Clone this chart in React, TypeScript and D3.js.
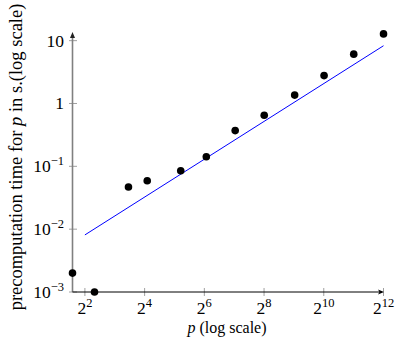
import { useRef, useEffect } from 'react'
import * as d3 from 'd3'

// precomputation time (s) for prime p
const primes = [3, 5, 11, 17, 37, 67, 131, 257, 521, 1031, 2053, 4099]
const times = [0.002, 0.001, 0.047, 0.059, 0.085, 0.142, 0.37, 0.65, 1.36, 2.78, 6.1, 12.8]

// linear fit endpoints (p, t)
const fitP = [4, 4096]
const fitT = [0.0081, 8.3]

const xTickExp = [2, 4, 6, 8, 10, 12]
const yTicks = [1e-3, 1e-2, 1e-1, 1, 10]
const yTickLabels: [string, string][] = [['10', '−3'], ['10', '−2'], ['10', '−1'], ['1', ''], ['10', '']]

export default function App() {
  const svgRef = useRef<SVGSVGElement>(null)

  useEffect(() => {
    const W = 397, H = 340
    const font = '"Liberation Serif", "DejaVu Serif", serif'
    const svg = d3.select(svgRef.current)
    svg.selectAll('*').remove()
    svg.attr('width', W).attr('height', H)

    const x = d3.scaleLog().base(2).domain([3, 4096]).range([72.5, 383.5])
    const y = d3.scaleLog().domain([1e-3, Math.pow(10, 1.09)]).range([292, 35])

    const g = svg.append('g')

    // x ticks
    xTickExp.forEach(e => {
      const px = x(Math.pow(2, e))
      g.append('line').attr('x1', px).attr('x2', px).attr('y1', 288).attr('y2', 296)
        .attr('stroke', '#888').attr('stroke-width', 0.8)
      const t = g.append('text').attr('x', px).attr('y', 314)
        .attr('text-anchor', 'middle').attr('font-family', font).attr('font-size', 17.5).attr('fill', '#000')
      t.append('tspan').text('2')
      t.append('tspan').attr('dy', -7).attr('font-size', 12.5).text(String(e))
    })

    // y ticks
    yTicks.forEach((v, i) => {
      const py = y(v)
      g.append('line').attr('x1', 69).attr('x2', 77).attr('y1', py).attr('y2', py)
        .attr('stroke', '#888').attr('stroke-width', 0.8)
      const [base, sup] = yTickLabels[i]
      const t = g.append('text').attr('x', 64).attr('y', py + 6)
        .attr('text-anchor', 'end').attr('font-family', font).attr('font-size', 17.5).attr('fill', '#000')
      t.append('tspan').text(base)
      if (sup) t.append('tspan').attr('dy', -7).attr('font-size', 12.5).text(sup)
    })

    // y axis (gray) with arrow
    g.append('line').attr('x1', 72.5).attr('x2', 72.5).attr('y1', 292).attr('y2', 36)
      .attr('stroke', '#808080').attr('stroke-width', 1.6)
    g.append('path').attr('d', 'M72.5,32 L70,38 L75,38 Z').attr('fill', '#222')

    // x axis (black) with arrow
    g.append('line').attr('x1', 72.5).attr('x2', 382).attr('y1', 292).attr('y2', 292)
      .attr('stroke', '#000').attr('stroke-width', 1)
    g.append('path').attr('d', 'M384,292 L378,289.5 L379.5,292 L378,294.5 Z').attr('fill', '#000')

    // fit line
    const line = d3.line<number>().x(i => x(fitP[i])).y(i => y(fitT[i]))
    g.append('path').datum([0, 1]).attr('d', line)
      .attr('fill', 'none').attr('stroke', '#0000ff').attr('stroke-width', 1)

    // points
    primes.forEach((p, i) => {
      g.append('circle').attr('cx', x(p)).attr('cy', y(times[i])).attr('r', 3.8).attr('fill', '#000')
    })

    // axis labels
    const xl = g.append('text').attr('x', 227).attr('y', 333).attr('text-anchor', 'middle')
      .attr('font-family', font).attr('font-size', 16).attr('fill', '#000')
    xl.append('tspan').attr('font-style', 'italic').text('p')
    xl.append('tspan').text(' (log scale)')

    const yl = g.append('text').attr('transform', 'translate(22,157) rotate(-90)').attr('text-anchor', 'middle')
      .attr('font-family', font).attr('font-size', 18.5).attr('fill', '#000')
    yl.append('tspan').text('precomputation time for ')
    yl.append('tspan').attr('font-style', 'italic').text('p')
    yl.append('tspan').text(' in s.(log scale)')
  }, [])

  return (
    <div style={{ position: 'absolute', left: 0, top: 0 }}>
      <svg ref={svgRef} style={{ display: 'block' }} />
    </div>
  )
}
